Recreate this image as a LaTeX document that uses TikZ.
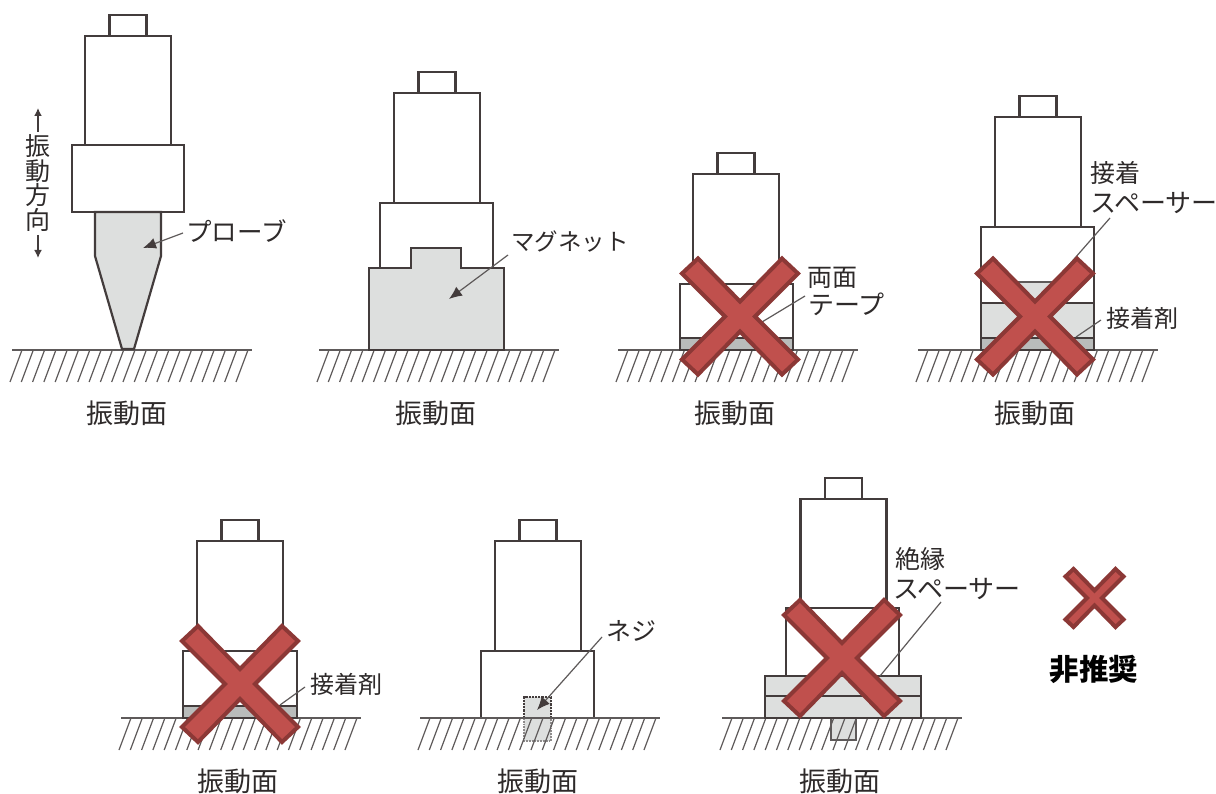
\documentclass[tikz,border=0pt]{standalone}
\usepackage{fontspec}
\setmainfont{Noto Sans CJK JP}
\usetikzlibrary{arrows.meta}
\definecolor{ink}{HTML}{433C3C}
\definecolor{txt}{HTML}{2E2A2A}
\definecolor{lead}{HTML}{5E5A5A}
\definecolor{fillg}{HTML}{DDDFDE}
\definecolor{fillt}{HTML}{B9BCBB}
\definecolor{xfill}{HTML}{C0504D}
\definecolor{xline}{HTML}{8C3836}
\tikzset{
  part/.style={draw=ink,line width=2.2pt,fill=white},
  grayp/.style={draw=ink,line width=2.2pt,fill=fillg},
  tapep/.style={draw=ink,line width=2.2pt,fill=fillt},
  gnd/.style={draw=lead,line width=1.6pt},
  hatchl/.style={draw=lead,line width=1.2pt},
  leader/.style={draw=lead,line width=1.2pt},
  leadarrow/.style={draw=lead,line width=1.2pt,-{Latex[length=13pt,width=11pt,color=ink]}},
  lbl/.style={font=\fontsize{25}{28}\selectfont,text=txt,inner sep=0pt},
  lblk/.style={font=\fontsize{26}{28}\selectfont,text=txt,inner sep=0pt},
  lblg/.style={font=\fontsize{27}{28}\selectfont,text=txt,inner sep=0pt},
  lblc/.style={font=\fontsize{24}{26}\selectfont,text=txt,inner sep=0pt},
  xmark/.style={draw=xline,line width=4pt,fill=xfill,line join=miter},
}
\newcommand{\grnd}[4]{%
  \draw[gnd] (#1,#2) -- ++(240,0);
  \foreach \i in {0,...,20}{\draw[hatchl] ({#1+10+\i*11.3},#2) -- ++(-12,32);}
  \node[lblg] (#4) at (#3,413+#2-350) {振動面};
}
\newcommand{\sensor}[2]{%
  \draw[part] ({#1-18.5},#2) rectangle ({#1+18.5},{#2+21});
  \draw[part] ({#1-43},{#2+21}) rectangle ({#1+43},{#2+131});
}
\newcommand{\bigx}[4][1]{%
  \begin{scope}[shift={(#2,#3)},scale=#1]
  \path[xmark] (-42,-58) -- (0,-15) -- (42,-58) -- (58,-43) -- (15,0) -- (58,43) -- (42,58) -- (0,15) -- (-42,58) -- (-58,43) -- (-15,0) -- (-58,-43) -- cycle;
  \end{scope}
  \node[inner sep=0pt,minimum size=0pt] (#4) at (#2,#3) {};
}
\begin{document}
\begin{tikzpicture}[x=1pt,y=-1pt]
\useasboundingbox (0,0) rectangle (1216,794);
\fill[white] (0,0) rectangle (1216,794);

% ---------- 1 probe
\grnd{12}{350}{127}{f1}
\sensor{128}{15}
\draw[part] (72,145) rectangle (184,212);
\draw[grayp] (95,212) -- (95,256) -- (122,349) -- (134,349) -- (161,256) -- (161,212) -- cycle;
\node[lbl,anchor=west,font=\fontsize{25.5}{28}\selectfont] (probe) at (186,231) {プローブ};
\coordinate (probeT) at (143,248);
\coordinate (probeS) at (183,233);
\draw[leadarrow] (probeS) -- (probeT);
\node[lbl,align=center,font=\fontsize{25}{24.5}\selectfont] (dir) at (38,183) {振\\動\\方\\向};
\coordinate (dirU) at (38,108);\coordinate (dirD) at (38,258);
\draw[draw=ink,line width=1.6pt,-{Latex[length=8pt,width=8pt]}] (38,132) -- (dirU);
\draw[draw=ink,line width=1.6pt,-{Latex[length=8pt,width=8pt]}] (38,235) -- (dirD);

% ---------- 2 magnet
\grnd{319}{350}{436}{f2}
\sensor{437}{72}
\draw[part] (380,203) rectangle (493,268);
\draw[grayp] (369,350) -- (369,268) -- (411,268) -- (411,248) -- (461,248) -- (461,268) -- (504,268) -- (504,350) -- cycle;
\node[lbl,anchor=west,font=\fontsize{23.5}{28}\selectfont] (mag) at (511,242) {マグネット};
\coordinate (magS) at (508,255);\coordinate (magT) at (449,299);
\draw[leadarrow] (magS) -- (magT);

% ---------- 3 tape
\grnd{618}{350}{735}{f3}
\sensor{736}{153}
\draw[part] (680,284) rectangle (793,350);
\draw[tapep] (680,338) rectangle (793,350);
\coordinate (tapeS) at (805,296);\coordinate (tapeT) at (762,322);
\draw[leader] (tapeS) -- (tapeT);
\node[lbl] (ryo) at (832,278) {両面};
\node[lblk,anchor=west] (tape) at (808,304) {テープ};
\bigx{740}{316.5}{x3}

% ---------- 4 spacer
\grnd{918}{350}{1035}{f4}
\sensor{1038}{96}
\draw[part] (981,227) rectangle (1094,350);
\draw[grayp,draw=ink!50] (981,303) rectangle (1094,338);
\draw[tapep] (981,338) rectangle (1094,350);
\draw[grayp,draw=none] (1012,283) rectangle (1060,303);
\draw[draw=lead,line width=1.6pt] (1012,282) -- (1060,282);
\draw[draw=ink,line width=2.2pt] (981,303) -- (1094,303);
\draw[draw=ink,line width=2.2pt] (981,227) rectangle (1094,350);
\node[lbl] (setch) at (1115,173) {接着};
\node[lblk,anchor=west] (spc) at (1090,203) {スペーサー};
\coordinate (spcS) at (1110,218);\coordinate (spcT) at (1068,266);
\draw[leader] (spcS) -- (spcT);
\node[lblc] (glue) at (1142,318) {接着剤};
\coordinate (glueS) at (1101,320);\coordinate (glueT) at (1076,337);
\draw[leader] (glueS) -- (glueT);
\bigx{1035}{316.5}{x4}

% ---------- 5 adhesive
\grnd{121}{718}{238}{f5}
\sensor{240}{520}
\draw[part] (183,651) rectangle (297,718);
\draw[tapep] (183,706) rectangle (297,718);
\node[lblc] (glue2) at (346,684) {接着剤};
\coordinate (gl2S) at (305,687);\coordinate (gl2T) at (280,705);
\draw[leader] (gl2S) -- (gl2T);
\bigx{240}{684}{x5}

% ---------- 6 screw
\sensor{538}{520}
\draw[part] (481,651) rectangle (594,718);
\fill[fillg] (524,697) rectangle (551,741);
\draw[draw=ink,line width=2.2pt,densely dotted] (524,718) -- (524,697) -- (551,697) -- (551,718);
\draw[draw=lead!70,line width=1.8pt,densely dotted] (524,718) -- (524,741) -- (551,741) -- (551,718);
\grnd{420}{718}{538}{f6}
\node[lbl,anchor=west] (neji) at (606,631) {ネジ};
\coordinate (nejS) at (602,637);\coordinate (nejT) at (537,710);
\draw[leadarrow] (nejS) -- (nejT);

% ---------- 7 insulating spacer
\draw[draw=lead,line width=1.8pt,fill=fillg] (831,718) -- (831,740) -- (856,740) -- (856,718);
\grnd{722}{718}{840}{f7}
\sensor{843.5}{478}
\draw[part] (786,608) rectangle (899,676);
\draw[grayp] (765,676) rectangle (921,696);
\draw[grayp] (765,696) rectangle (921,718);
\node[lbl] (zet) at (920,559) {絶縁};
\node[lblk,anchor=west] (spc2) at (893,589) {スペーサー};
\coordinate (sp2S) at (941,602);\coordinate (sp2T) at (880,676);
\draw[leader] (sp2S) -- (sp2T);
\bigx{842}{658}{x7}

% ---------- legend
\bigx[0.5]{1094.5}{598}{xl}
\node[lbl,text=black,font=\fontsize{29.5}{30}\selectfont\bfseries] (hi) at (1094,669) {非推奨};
\end{tikzpicture}
\end{document}
